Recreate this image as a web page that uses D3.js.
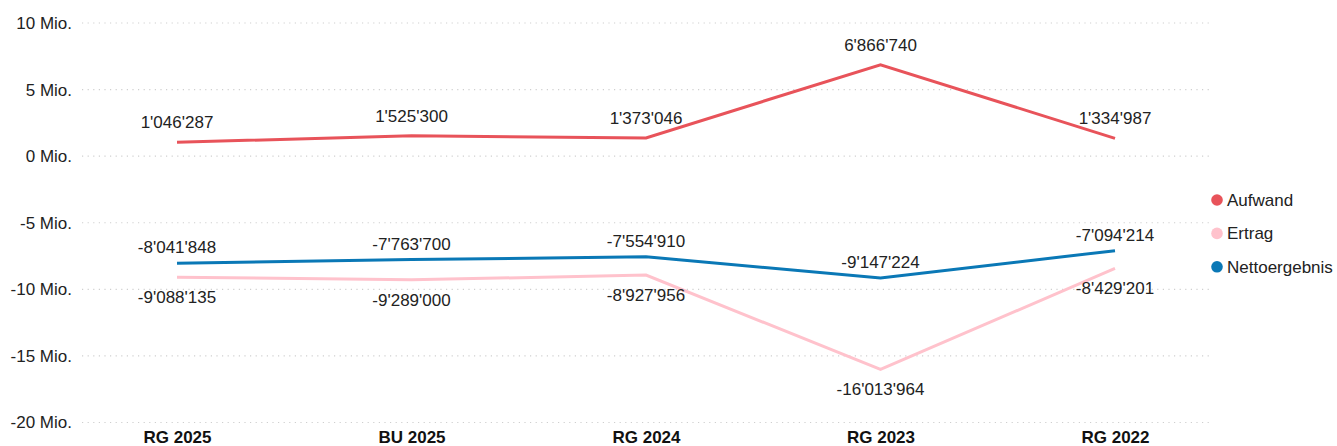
<!DOCTYPE html>
<html>
<head>
<meta charset="utf-8">
<script src="https://cdn.jsdelivr.net/npm/d3@7"></script>
<style>
  html, body { margin: 0; padding: 0; background: #ffffff; }
  svg { display: block; font-family: "Liberation Sans", Arial, sans-serif; }
</style>
</head>
<body>
<svg id="chart" width="1337" height="446"></svg>
<script>
const categories = ["RG 2025", "BU 2025", "RG 2024", "RG 2023", "RG 2022"];
const aufwand = [1046287, 1525300, 1373046, 6866740, 1334987];
const ertrag = [-9088135, -9289000, -8927956, -16013964, -8429201];
const netto = [-8041848, -7763700, -7554910, -9147224, -7094214];
const yTicks = [10e6, 5e6, 0, -5e6, -10e6, -15e6, -20e6];
const seriesNames = ["Aufwand", "Ertrag", "Nettoergebnis"];

const series = [
  { name: seriesNames[0], values: aufwand, color: "#E8535A", pos: "above", off: 20 },
  { name: seriesNames[1], values: ertrag, color: "#FFC2CC", pos: "below", off: 20 },
  { name: seriesNames[2], values: netto, color: "#0A78B6", pos: "above", off: 16 }
];

const svg = d3.select("#chart");
const x = d3.scalePoint().domain(categories).range([177, 1115]);
const y = d3.scaleLinear().domain([-20e6, 10e6]).range([422.5, 23]);

const fmt = v => {
  const s = Math.abs(Math.round(v)).toString().replace(/\B(?=(\d{3})+(?!\d))/g, "'");
  return (v < 0 ? "-" : "") + s;
};

const FS = 17;

// gridlines
svg.append("g").selectAll("line").data(yTicks).join("line")
  .attr("x1", 82).attr("x2", 1210)
  .attr("y1", d => y(d)).attr("y2", d => y(d))
  .attr("stroke", "#cfcfcf").attr("stroke-width", 1.2)
  .attr("stroke-dasharray", "1.2,4.4");

// y axis labels
const yAxis = d3.axisLeft(y).tickValues(yTicks).tickSize(0).tickPadding(0)
  .tickFormat(d => (d / 1e6) + " Mio.");
const gy = svg.append("g").attr("transform", "translate(72,0)").call(yAxis);
gy.select(".domain").remove();
gy.selectAll("text").attr("font-size", FS).attr("fill", "#222")
  .attr("font-family", "'Liberation Sans', Arial, sans-serif");

// x axis labels
const xAxis = d3.axisBottom(x).tickSize(0).tickPadding(0);
const gx = svg.append("g").attr("transform", "translate(0,431)").call(xAxis);
gx.select(".domain").remove();
gx.selectAll("text").attr("font-size", FS).attr("font-weight", "bold").attr("fill", "#111")
  .attr("font-family", "'Liberation Sans', Arial, sans-serif");

// lines
const line = d3.line().x((d, i) => x(categories[i])).y(d => y(d));
series.forEach(s => {
  svg.append("path").datum(s.values)
    .attr("fill", "none").attr("stroke", s.color).attr("stroke-width", 3)
    .attr("stroke-linejoin", "miter").attr("d", line);
});

// data labels
series.forEach(s => {
  svg.append("g").selectAll("text").data(s.values).join("text")
    .attr("x", (d, i) => x(categories[i]))
    .attr("y", d => s.pos === "above" ? y(d) - s.off : y(d) + s.off)
    .attr("dy", "0.35em")
    .attr("text-anchor", "middle")
    .attr("font-size", FS).attr("fill", "#222")
    .text(d => fmt(d));
});

// legend
const lg = svg.append("g").selectAll("g").data(series).join("g")
  .attr("transform", (d, i) => `translate(1217,${200 + i * 33.4})`);
lg.append("circle").attr("r", 5.8).attr("fill", d => d.color);
lg.append("text").attr("x", 10).attr("dy", "0.35em").attr("font-size", FS)
  .attr("fill", "#222").text(d => d.name);
</script>
</body>
</html>
